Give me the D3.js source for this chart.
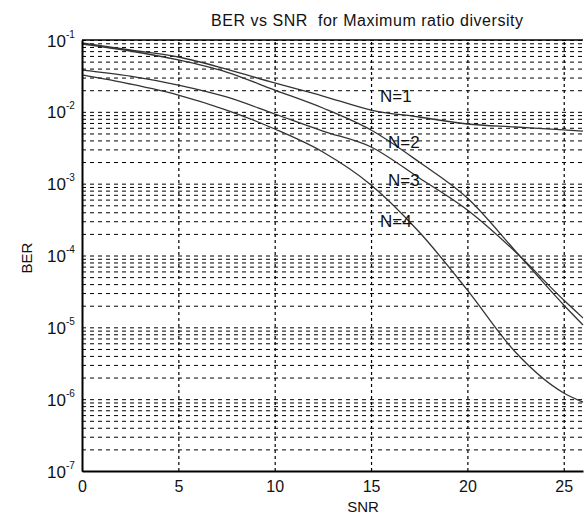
<!DOCTYPE html>
<html>
<head>
<meta charset="utf-8">
<script src="https://cdn.jsdelivr.net/npm/d3@7"></script>
<style>
  body { margin: 0; background: #fff; }
  svg { display: block; font-family: "Liberation Sans", Arial, sans-serif; }
</style>
</head>
<body>
<div id="chart"></div>
<script>
// SNR values (dB) where the curves were read
const snr = [0, 2.5, 5, 7.5, 10, 12.5, 15, 17.5, 20, 22.5, 25, 26];
const labels = ["N=1", "N=2", "N=3", "N=4"];
// BER readings, one array per diversity order
const ber1 = [0.0908, 0.0726, 0.0580, 0.0394, 0.0252, 0.0166, 0.0106, 0.00847, 0.00677, 0.00615, 0.00560, 0.00540];
const ber2 = [0.0880, 0.0703, 0.0527, 0.0358, 0.0201, 0.0113, 0.00558, 0.00200, 6.3e-4, 1.15e-4, 2.05e-5, 1.08e-5];
const ber3 = [0.0382, 0.0315, 0.0236, 0.0161, 0.00933, 0.00540, 0.00324, 0.00120, 4.3e-4, 1.12e-4, 2.4e-5, 1.35e-5];
const ber4 = [0.0326, 0.0244, 0.01715, 0.0106, 0.00577, 0.00276, 9.6e-4, 2.12e-4, 3.3e-5, 4.5e-6, 1.22e-6, 9.1e-7];
const xTicks = [0, 5, 10, 15, 20, 25];
const yExps = [-7, -6, -5, -4, -3, -2, -1];

const W = 588, H = 515;
const m = { left: 82, right: 5, top: 40, bottom: 44 };
const iw = W - m.left - m.right, ih = H - m.top - m.bottom;

const svg = d3.select("#chart").append("svg").attr("width", W).attr("height", H);
const g = svg.append("g").attr("transform", `translate(${m.left},${m.top})`);

const x = d3.scaleLinear().domain([0, 26]).range([0, iw]);
const y = d3.scaleLog().domain([1e-7, 1e-1]).range([ih, 0]);

// minor log grid values
const yGrid = [];
yExps.slice(0, -1).forEach(e => { for (let k = 1; k <= 9; k++) yGrid.push(k * Math.pow(10, e)); });
yGrid.push(1e-1);

g.append("g")
  .call(d3.axisLeft(y).tickValues(yGrid).tickSize(-iw).tickFormat(""))
  .call(a => a.select(".domain").remove())
  .call(a => a.selectAll("line").attr("stroke", "#000").attr("stroke-dasharray", "4,4"));

g.append("g")
  .attr("transform", `translate(0,${ih})`)
  .call(d3.axisBottom(x).tickValues(xTicks.slice(1)).tickSize(-ih).tickFormat(""))
  .call(a => a.select(".domain").remove())
  .call(a => a.selectAll("line").attr("stroke", "#000").attr("stroke-width", 1.2).attr("stroke-dasharray", "3,3"));

// curves
const line = d3.line().x(d => x(d[0])).y(d => y(d[1])).curve(d3.curveMonotoneX);
[ber1, ber2, ber3, ber4].forEach(s => {
  g.append("path")
    .datum(snr.map((v, i) => [v, s[i]]))
    .attr("fill", "none")
    .attr("stroke", "#333")
    .attr("stroke-width", 1.3)
    .attr("d", line);
});

// axes
const xAxis = g.append("g")
  .attr("transform", `translate(0,${ih})`)
  .call(d3.axisBottom(x).tickValues(xTicks).tickSize(0).tickPadding(10).tickFormat(d3.format("d")));
xAxis.select(".domain").attr("stroke", "#000").attr("stroke-width", 2);
xAxis.selectAll("text").attr("font-size", 16).attr("fill", "#111");

const yAxis = g.append("g")
  .call(d3.axisLeft(y).tickValues(yExps.map(e => Math.pow(10, e))).tickSize(0).tickFormat(""));
yAxis.select(".domain").attr("stroke", "#000").attr("stroke-width", 2);
yAxis.selectAll(".tick").each(function(d) {
  const t = d3.select(this).append("text")
    .attr("x", -35).attr("y", 6)
    .attr("fill", "#111").attr("font-size", 17).attr("text-anchor", "start");
  t.append("tspan").text("10");
  t.append("tspan").attr("dy", -9).attr("font-size", 10).text(Math.round(Math.log10(d)));
});

// top border
g.append("line").attr("x1", 0).attr("x2", iw).attr("y1", 0).attr("y2", 0)
  .attr("stroke", "#000").attr("stroke-width", 1.5);

// curve labels
const labelPos = [[380, 102], [388, 148], [388, 186], [380, 227]];
labels.forEach((l, i) => {
  svg.append("text")
    .attr("x", labelPos[i][0]).attr("y", labelPos[i][1])
    .attr("font-family", "'Liberation Sans Narrow', 'Liberation Sans', sans-serif")
    .attr("font-size", 17).attr("fill", "#111")
    .text(l);
});

// titles
svg.append("text")
  .attr("x", 211).attr("y", 26)
  .attr("font-size", 16).attr("fill", "#111")
  .attr("textLength", 312).attr("lengthAdjust", "spacing")
  .style("white-space", "pre")
  .text("BER vs SNR  for Maximum ratio diversity");
svg.append("text")
  .attr("x", 363).attr("y", 512).attr("text-anchor", "middle")
  .attr("font-size", 15).attr("fill", "#111")
  .text("SNR");
svg.append("text")
  .attr("transform", "translate(32,258) rotate(-90)").attr("text-anchor", "middle")
  .attr("font-size", 15).attr("fill", "#111")
  .text("BER");
</script>
</body>
</html>
